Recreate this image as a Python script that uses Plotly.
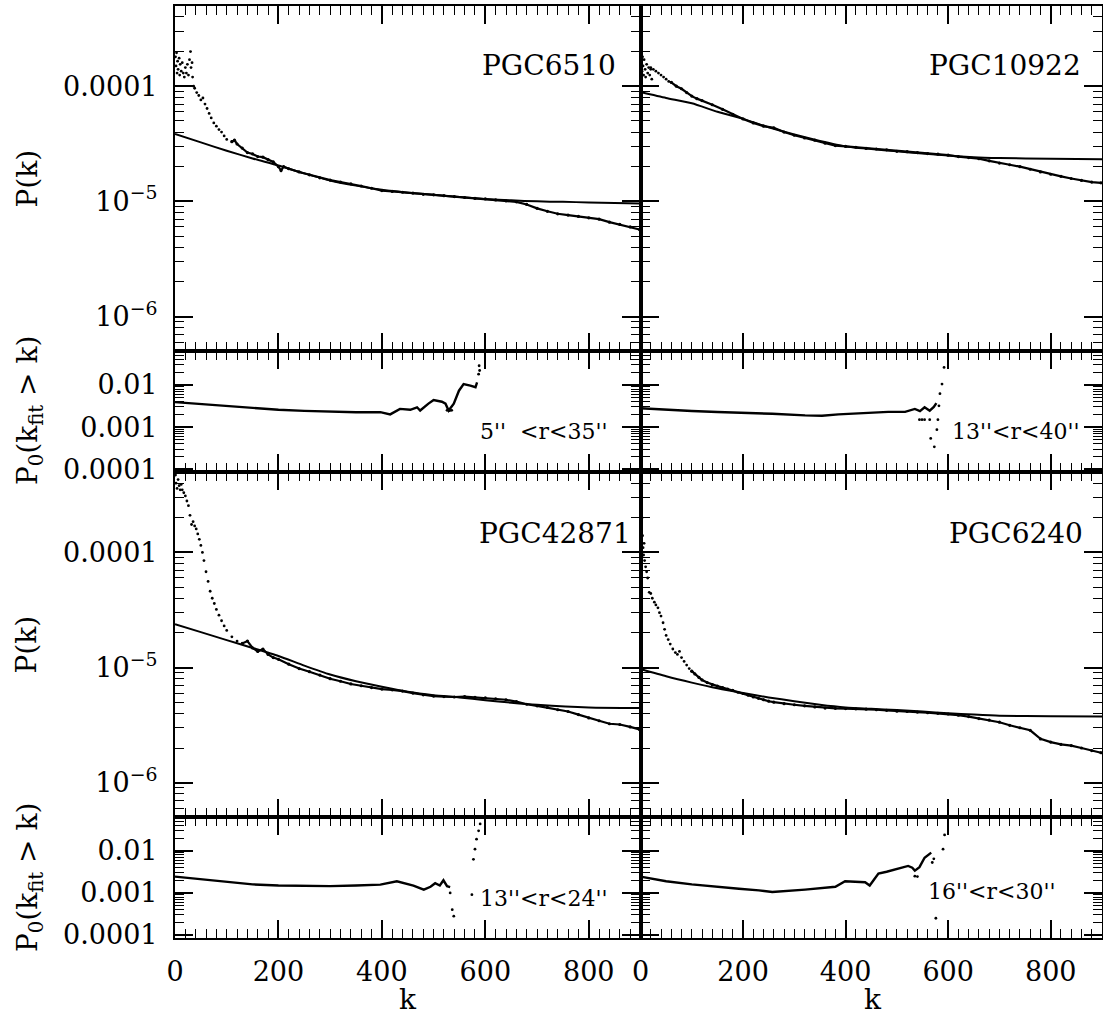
import plotly.graph_objects as go

# ---------------- data ----------------
# PGC6510 (top-left)
pgc6510_cloud_k = [1, 2, 3, 4, 5, 6, 8, 9, 10, 12, 14, 16, 18, 20, 22, 24, 26, 28, 30, 31, 33, 34, 36]
pgc6510_cloud_p = [1.8e-4, 1.5e-4, 1.95e-4, 1.3e-4, 1.65e-4, 1.4e-4, 1.75e-4, 1.25e-4, 1.55e-4, 1.35e-4,
                   1.6e-4, 1.3e-4, 1.2e-4, 1.45e-4, 1.3e-4, 1.55e-4, 1.25e-4, 1.7e-4, 2.0e-4, 1.45e-4,
                   1.6e-4, 1.2e-4, 1.0e-4]
pgc6510_k = [38, 42, 46, 50, 54, 58, 62, 66, 70, 75, 80, 85, 90, 95, 100, 110, 115, 120, 130, 140, 150,
             160, 170, 180, 190, 200, 205, 210, 220, 240, 260, 280, 300, 320, 340, 360, 380, 400, 420,
             440, 460, 480, 500, 520, 540, 560, 580, 600, 620, 640, 660, 680, 700, 720, 740, 760, 780,
             800, 820, 840, 860, 880, 898]
pgc6510_p = [9.6e-5, 8.8e-5, 8.3e-5, 7.6e-5, 7.9e-5, 7.0e-5, 6.4e-5, 5.8e-5, 5.3e-5, 4.8e-5, 4.5e-5,
             4.2e-5, 4.0e-5, 3.7e-5, 3.45e-5, 3.3e-5, 3.4e-5, 3.15e-5, 2.9e-5, 2.65e-5, 2.58e-5, 2.45e-5,
             2.42e-5, 2.3e-5, 2.2e-5, 2.0e-5, 1.85e-5, 2.0e-5, 1.92e-5, 1.8e-5, 1.7e-5, 1.6e-5, 1.53e-5,
             1.47e-5, 1.42e-5, 1.36e-5, 1.3e-5, 1.24e-5, 1.22e-5, 1.2e-5, 1.18e-5, 1.15e-5, 1.14e-5,
             1.12e-5, 1.1e-5, 1.08e-5, 1.06e-5, 1.05e-5, 1.03e-5, 1.01e-5, 9.9e-6, 9.4e-6, 8.7e-6,
             8.2e-6, 7.8e-6, 7.6e-6, 7.4e-6, 7.2e-6, 7.0e-6, 6.6e-6, 6.3e-6, 6.0e-6, 5.7e-6]
pgc6510_fit_k = [0, 50, 100, 150, 200, 250, 300, 350, 400, 450, 500, 550, 600, 650, 700, 750, 800, 850, 900]
pgc6510_fit_p = [3.84e-5, 3.25e-5, 2.75e-5, 2.36e-5, 2.05e-5, 1.75e-5, 1.52e-5, 1.37e-5, 1.26e-5, 1.19e-5,
                 1.14e-5, 1.09e-5, 1.05e-5, 1.02e-5, 1.0e-5, 9.9e-6, 9.8e-6, 9.7e-6, 9.6e-6]
pgc6510_p0_k = [0, 50, 100, 150, 200, 250, 300, 350, 397, 416, 435, 455, 468, 474, 490, 500, 516, 523,
                529, 539, 549, 558, 571, 581, 584]
pgc6510_p0 = [3.9e-3, 3.5e-3, 3.1e-3, 2.8e-3, 2.57e-3, 2.42e-3, 2.3e-3, 2.25e-3, 2.26e-3, 2.0e-3, 2.7e-3,
              2.57e-3, 2.95e-3, 2.47e-3, 3.6e-3, 4.4e-3, 4.0e-3, 3.6e-3, 2.47e-3, 3.6e-3, 7.3e-3,
              1.05e-2, 9.6e-3, 8.8e-3, 1.15e-2]
pgc6510_p0_dots_k = [526, 531, 535, 587, 588, 589]
pgc6510_p0_dots = [2.5e-3, 2.45e-3, 2.5e-3, 1.8e-2, 2.85e-2, 2.2e-2]

# PGC10922 (top-right)
pgc10922_cloud_k = [1, 2, 3, 4, 5, 6, 7, 9, 10, 12, 14, 16, 18, 20, 22]
pgc10922_cloud_p = [2.6e-4, 1.6e-4, 1.35e-4, 1.8e-4, 1.5e-4, 1.25e-4, 1.7e-4, 1.4e-4, 1.2e-4, 1.55e-4,
                    1.3e-4, 1.45e-4, 1.25e-4, 1.4e-4, 1.15e-4]
pgc10922_k = [20, 25, 30, 35, 40, 45, 50, 55, 60, 70, 80, 90, 100, 110, 120, 140, 160, 180, 200, 220, 240,
              260, 280, 300, 320, 340, 360, 380, 400, 420, 440, 460, 480, 500, 520, 540, 560, 580, 600,
              620, 640, 660, 680, 700, 720, 740, 760, 780, 800, 820, 840, 860, 880, 898]
pgc10922_p = [1.45e-4, 1.4e-4, 1.35e-4, 1.3e-4, 1.25e-4, 1.2e-4, 1.15e-4, 1.1e-4, 1.08e-4, 1.0e-4, 9.5e-5,
              8.8e-5, 8.2e-5, 7.8e-5, 7.5e-5, 6.9e-5, 6.3e-5, 5.7e-5, 5.2e-5, 4.8e-5, 4.5e-5, 4.35e-5,
              4.0e-5, 3.75e-5, 3.55e-5, 3.4e-5, 3.2e-5, 3.05e-5, 3.0e-5, 2.95e-5, 2.88e-5, 2.85e-5, 2.8e-5,
              2.72e-5, 2.7e-5, 2.65e-5, 2.6e-5, 2.57e-5, 2.52e-5, 2.45e-5, 2.4e-5, 2.35e-5, 2.25e-5,
              2.15e-5, 2.08e-5, 2.0e-5, 1.9e-5, 1.8e-5, 1.72e-5, 1.65e-5, 1.58e-5, 1.52e-5, 1.47e-5, 1.45e-5]
pgc10922_fit_k = [0, 50, 100, 150, 200, 250, 300, 350, 400, 450, 500, 550, 600, 650, 700, 800, 900]
pgc10922_fit_p = [8.9e-5, 7.9e-5, 7.1e-5, 6.0e-5, 5.2e-5, 4.4e-5, 3.8e-5, 3.35e-5, 3.0e-5, 2.85e-5,
                  2.72e-5, 2.6e-5, 2.5e-5, 2.42e-5, 2.38e-5, 2.34e-5, 2.32e-5]
pgc10922_p0_k = [0, 50, 100, 150, 200, 257, 321, 354, 386, 420, 451, 483, 516, 535, 545, 554, 564, 572, 577]
pgc10922_p0 = [2.8e-3, 2.55e-3, 2.4e-3, 2.28e-3, 2.2e-3, 2.07e-3, 1.9e-3, 1.86e-3, 2.0e-3, 2.1e-3, 2.2e-3,
               2.3e-3, 2.3e-3, 2.7e-3, 2.4e-3, 2.95e-3, 2.45e-3, 3.0e-3, 3.7e-3]
pgc10922_p0_dots_k = [544, 549, 554, 564, 578, 580, 566, 573, 582, 584, 588, 592]
pgc10922_p0_dots = [1.5e-3, 1.5e-3, 1.5e-3, 1.5e-3, 8.7e-4, 1.5e-3, 5.4e-4, 3.4e-4, 3.2e-3, 6.2e-3,
                    1.05e-2, 2.6e-2]

# PGC42871 (bottom-left)
pgc42871_cloud_k = [1, 2, 4, 6, 8, 10, 12]
pgc42871_cloud_p = [4.7e-4, 4.0e-4, 3.6e-4, 4.3e-4, 3.8e-4, 3.5e-4, 3.9e-4]
pgc42871_k = [14, 17, 20, 23, 26, 29, 32, 35, 38, 41, 44, 47, 50, 53, 56, 60, 64, 68, 72, 76, 80, 85, 90,
              95, 100, 110, 120, 130, 140, 150, 160, 170, 180, 190, 200, 220, 240, 260, 280, 300, 320,
              340, 360, 380, 400, 420, 440, 460, 480, 500, 520, 540, 560, 580, 600, 620, 640, 660, 680,
              700, 720, 740, 760, 780, 800, 820, 840, 860, 880, 898]
pgc42871_p = [3.5e-4, 3.3e-4, 3.1e-4, 2.8e-4, 2.55e-4, 2.1e-4, 1.75e-4, 1.85e-4, 1.7e-4, 1.6e-4, 1.45e-4,
              1.3e-4, 1.15e-4, 1.0e-4, 8.5e-5, 6.8e-5, 5.6e-5, 4.6e-5, 4.0e-5, 3.6e-5, 3.2e-5, 2.85e-5,
              2.55e-5, 2.3e-5, 2.1e-5, 1.85e-5, 1.7e-5, 1.62e-5, 1.7e-5, 1.48e-5, 1.38e-5, 1.45e-5, 1.3e-5,
              1.22e-5, 1.18e-5, 1.07e-5, 9.8e-6, 9.2e-6, 8.6e-6, 8.0e-6, 7.6e-6, 7.2e-6, 6.95e-6, 6.7e-6,
              6.5e-6, 6.4e-6, 6.25e-6, 6.0e-6, 5.8e-6, 5.65e-6, 5.6e-6, 5.55e-6, 5.6e-6, 5.5e-6, 5.45e-6,
              5.35e-6, 5.25e-6, 5.05e-6, 4.8e-6, 4.65e-6, 4.5e-6, 4.3e-6, 4.15e-6, 3.9e-6, 3.65e-6,
              3.45e-6, 3.25e-6, 3.2e-6, 3.05e-6, 2.9e-6]
pgc42871_fit_k = [0, 50, 100, 150, 200, 250, 300, 350, 400, 450, 500, 550, 600, 650, 700, 800, 900]
pgc42871_fit_p = [2.38e-5, 2.03e-5, 1.73e-5, 1.48e-5, 1.26e-5, 1.04e-5, 8.7e-6, 7.6e-6, 6.8e-6, 6.15e-6,
                  5.75e-6, 5.5e-6, 5.2e-6, 4.95e-6, 4.75e-6, 4.5e-6, 4.45e-6]
pgc42871_p0_k = [0, 50, 100, 150, 200, 250, 300, 350, 397, 429, 461, 481, 494, 503, 512, 519, 526, 532]
pgc42871_p0 = [2.45e-3, 2.1e-3, 1.85e-3, 1.6e-3, 1.5e-3, 1.48e-3, 1.45e-3, 1.5e-3, 1.58e-3, 1.9e-3,
               1.5e-3, 1.2e-3, 1.4e-3, 1.7e-3, 1.5e-3, 2.0e-3, 1.45e-3, 1.38e-3]
pgc42871_p0_dots_k = [532, 536, 539, 574, 577, 580, 583, 587, 590]
pgc42871_p0_dots = [1.0e-3, 4.0e-4, 2.8e-4, 9.1e-4, 6.3e-3, 1.1e-2, 1.9e-2, 3.0e-2, 4.4e-2]

# PGC6240 (bottom-right)
pgc6240_cloud_k = [1, 2, 3, 4, 5, 6, 7]
pgc6240_cloud_p = [2.5e-4, 1.6e-4, 2.0e-4, 1.4e-4, 1.1e-4, 9.5e-5, 1.2e-4]
pgc6240_k = [8, 10, 12, 14, 17, 20, 23, 27, 30, 34, 37, 40, 44, 47, 50, 54, 58, 63, 68, 72, 76, 80, 85,
             90, 95, 100, 106, 114, 120, 130, 140, 150, 160, 170, 180, 190, 200, 210, 220, 230, 240, 250,
             260, 280, 300, 320, 340, 360, 380, 400, 420, 440, 460, 480, 500, 520, 540, 560, 580, 600,
             620, 640, 660, 680, 700, 720, 740, 760, 780, 800, 820, 840, 860, 880, 898]
pgc6240_p = [8.5e-5, 7.5e-5, 6.8e-5, 6.0e-5, 4.5e-5, 4.4e-5, 4.0e-5, 3.7e-5, 3.5e-5, 3.3e-5, 3.0e-5,
             2.8e-5, 2.45e-5, 2.15e-5, 1.9e-5, 1.75e-5, 1.6e-5, 1.45e-5, 1.35e-5, 1.3e-5, 1.38e-5,
             1.22e-5, 1.13e-5, 1.05e-5, 9.8e-6, 9.3e-6, 8.8e-6, 8.2e-6, 7.8e-6, 7.4e-6, 7.1e-6, 6.9e-6,
             6.7e-6, 6.5e-6, 6.35e-6, 6.1e-6, 5.95e-6, 5.75e-6, 5.55e-6, 5.4e-6, 5.25e-6, 5.1e-6, 5.0e-6,
             4.85e-6, 4.75e-6, 4.65e-6, 4.55e-6, 4.45e-6, 4.42e-6, 4.4e-6, 4.38e-6, 4.35e-6, 4.3e-6,
             4.25e-6, 4.18e-6, 4.15e-6, 4.1e-6, 4.05e-6, 4.0e-6, 3.95e-6, 3.85e-6, 3.75e-6, 3.6e-6,
             3.5e-6, 3.35e-6, 3.15e-6, 3.0e-6, 2.85e-6, 2.4e-6, 2.25e-6, 2.15e-6, 2.1e-6, 2.0e-6,
             1.9e-6, 1.82e-6]
pgc6240_fit_k = [0, 50, 100, 150, 200, 250, 300, 350, 400, 450, 500, 550, 600, 650, 700, 800, 900]
pgc6240_fit_p = [9.7e-6, 8.4e-6, 7.4e-6, 6.6e-6, 6.0e-6, 5.5e-6, 5.1e-6, 4.75e-6, 4.5e-6, 4.38e-6,
                 4.28e-6, 4.15e-6, 4.0e-6, 3.9e-6, 3.82e-6, 3.77e-6, 3.76e-6]
pgc6240_p0_k = [0, 50, 100, 150, 192, 231, 257, 321, 360, 380, 399, 420, 438, 447, 464, 480, 496, 510,
                522, 530, 535, 544, 554, 567]
pgc6240_p0 = [2.45e-3, 1.9e-3, 1.6e-3, 1.38e-3, 1.26e-3, 1.15e-3, 1.05e-3, 1.2e-3, 1.35e-3, 1.4e-3,
              1.9e-3, 1.85e-3, 1.8e-3, 1.5e-3, 2.9e-3, 3.2e-3, 3.6e-3, 3.9e-3, 4.4e-3, 4.0e-3, 3.4e-3,
              4.1e-3, 6.9e-3, 9.1e-3]
pgc6240_p0_dots_k = [535, 540, 569, 572, 576, 590, 593]
pgc6240_p0_dots = [2.5e-3, 2.45e-3, 5.3e-3, 6.5e-3, 2.5e-4, 1.1e-2, 2.4e-2]

# below this k the measured spectrum is shown as separate dots
dotted_below_k = [110, 60, 125, 100]

galaxy_names = ["PGC6510", "PGC10922", "PGC42871", "PGC6240"]
radius_labels = ["5''  &lt;r&lt;35''", "13''&lt;r&lt;40''", "13''&lt;r&lt;24''", "16''&lt;r&lt;30''"]

big_ticks = [1e-6, 1e-5, 1e-4]
big_ticktext = ["10<sup>\u22126</sup>", "10<sup>\u22125</sup>", "0.0001"]
small_ticks = [1e-4, 1e-3, 1e-2]
small_ticktext = ["0.0001", "0.001", "0.01"]
k_ticks = [0, 200, 400, 600, 800]

# ---------------- layout geometry ----------------
W, H = 1103, 1018
FONT = "DejaVu Serif"


def fx(px):
    return px / W


def fy(py):
    return 1 - py / H


XL = [fx(175), fx(640.5)]
XR = [fx(640.5), fx(1102)]
Y_BIG1 = [fy(351.2), fy(5.7)]
Y_SM1 = [fy(472), fy(351.2)]
Y_BIG2 = [fy(817.3), fy(472)]
Y_SM2 = [fy(937.7), fy(817.3)]

BIG_RANGE = [-6.30103, -3.30103]
SMALL_RANGE = [-4.065, -1.2]

minor_log = [m * 10 ** e for e in range(-8, 0) for m in range(2, 10)]

fig = go.Figure()

panels = [
    # idx, xdomain, ydomain, kind, show x labels, show y labels
    (1, XL, Y_BIG1, "big", False, True),
    (2, XR, Y_BIG1, "big", False, False),
    (3, XL, Y_SM1, "small", False, True),
    (4, XR, Y_SM1, "small", False, False),
    (5, XL, Y_BIG2, "big", False, True),
    (6, XR, Y_BIG2, "big", False, False),
    (7, XL, Y_SM2, "small", True, True),
    (8, XR, Y_SM2, "small", True, False),
]

common = dict(
    showline=True, linecolor="black", linewidth=2.2, mirror="ticks",
    ticks="inside", ticklen=18, tickwidth=1.6, tickcolor="black",
    showgrid=False, zeroline=False,
    tickfont=dict(family=FONT, size=27, color="black"),
)

layout_axes = {}
for idx, xd, yd, kind, showx, showy in panels:
    sfx = "" if idx == 1 else str(idx)
    layout_axes["xaxis" + sfx] = dict(
        common, domain=xd, anchor="y" + sfx, range=[0, 900],
        tickmode="array", tickvals=k_ticks, showticklabels=showx,
        ticklabelstandoff=9,
        minor=dict(ticks="inside", ticklen=9, tickwidth=1.3, tickcolor="black",
                   tickmode="linear", tick0=0, dtick=20, showgrid=False),
    )
    if kind == "big":
        yr, tv, tt = BIG_RANGE, big_ticks, big_ticktext
    else:
        yr, tv, tt = SMALL_RANGE, small_ticks, small_ticktext
    layout_axes["yaxis" + sfx] = dict(
        common, domain=yd, anchor="x" + sfx, type="log", range=yr,
        tickmode="array", tickvals=tv, ticktext=tt, showticklabels=showy,
        ticklabelstandoff=10,
        minor=dict(ticks="inside", ticklen=9, tickwidth=1.3, tickcolor="black",
                   tickmode="array", tickvals=minor_log, showgrid=False),
    )

galaxies = [
    (pgc6510_cloud_k, pgc6510_cloud_p, pgc6510_k, pgc6510_p, pgc6510_fit_k, pgc6510_fit_p,
     pgc6510_p0_k, pgc6510_p0, pgc6510_p0_dots_k, pgc6510_p0_dots, 1, 3),
    (pgc10922_cloud_k, pgc10922_cloud_p, pgc10922_k, pgc10922_p, pgc10922_fit_k, pgc10922_fit_p,
     pgc10922_p0_k, pgc10922_p0, pgc10922_p0_dots_k, pgc10922_p0_dots, 2, 4),
    (pgc42871_cloud_k, pgc42871_cloud_p, pgc42871_k, pgc42871_p, pgc42871_fit_k, pgc42871_fit_p,
     pgc42871_p0_k, pgc42871_p0, pgc42871_p0_dots_k, pgc42871_p0_dots, 5, 7),
    (pgc6240_cloud_k, pgc6240_cloud_p, pgc6240_k, pgc6240_p, pgc6240_fit_k, pgc6240_fit_p,
     pgc6240_p0_k, pgc6240_p0, pgc6240_p0_dots_k, pgc6240_p0_dots, 6, 8),
]

DOT = dict(size=2.8, color="black")

for g, (ck, cp, dk, dp, fk, fp, p0k, p0, p0dk, p0d, big_i, sm_i) in enumerate(galaxies):
    bx = "x" if big_i == 1 else "x%d" % big_i
    by = "y" if big_i == 1 else "y%d" % big_i
    sx, sy = "x%d" % sm_i, "y%d" % sm_i
    cut = dotted_below_k[g]
    lo_k = list(ck) + [k for k in dk if k <= cut]
    lo_p = list(cp) + [p for k, p in zip(dk, dp) if k <= cut]
    hi_k = [k for k in dk if k >= cut]
    hi_p = [p for k, p in zip(dk, dp) if k >= cut]
    fig.add_trace(go.Scatter(x=lo_k, y=lo_p, mode="markers", xaxis=bx, yaxis=by,
                             marker=DOT, hoverinfo="skip"))
    fig.add_trace(go.Scatter(x=hi_k, y=hi_p, mode="lines+markers", xaxis=bx, yaxis=by,
                             line=dict(color="black", width=2.2),
                             marker=dict(size=3.2, color="black"), hoverinfo="skip"))
    fig.add_trace(go.Scatter(x=fk, y=fp, mode="lines", xaxis=bx, yaxis=by,
                             line=dict(color="black", width=2, shape="spline", smoothing=0.6),
                             hoverinfo="skip"))
    fig.add_trace(go.Scatter(x=p0k, y=p0, mode="lines", xaxis=sx, yaxis=sy,
                             line=dict(color="black", width=2.4), hoverinfo="skip"))
    fig.add_trace(go.Scatter(x=p0dk, y=p0d, mode="markers", xaxis=sx, yaxis=sy,
                             marker=DOT, hoverinfo="skip"))

ann = []
# galaxy names
for name, xr, yc in zip(galaxy_names, [618, 1083, 633, 1085], [65, 65, 533, 533]):
    ann.append(dict(text=name, x=fx(xr), y=fy(yc), xanchor="right", yanchor="middle",
                    font=dict(family=FONT, size=28, color="black")))
# radius ranges
for lab, xr, yc in zip(radius_labels, [610, 1082, 610, 1058], [431, 431, 898, 891]):
    ann.append(dict(text=lab, x=fx(xr), y=fy(yc), xanchor="right", yanchor="middle",
                    font=dict(family=FONT, size=22, color="black")))
# y titles
for yc in [178.5, 644.6]:
    ann.append(dict(text="P(k)", x=fx(27), y=fy(yc), xanchor="center", yanchor="middle",
                    textangle=-90, font=dict(family=FONT, size=28, color="black")))
for yc in [411, 878]:
    ann.append(dict(text="P<sub>0</sub>(k<sub>fit</sub> &gt; k)", x=fx(29), y=fy(yc),
                    xanchor="center", yanchor="middle", textangle=-90,
                    font=dict(family=FONT, size=28, color="black")))
# x titles
for xc in [407.5, 873]:
    ann.append(dict(text="k", x=fx(xc), y=fy(999), xanchor="center", yanchor="middle",
                    font=dict(family=FONT, size=28, color="black")))
for a in ann:
    a.update(xref="paper", yref="paper", showarrow=False)

fig.update_layout(
    width=W, height=H, margin=dict(l=0, r=0, t=0, b=0, autoexpand=False),
    paper_bgcolor="white", plot_bgcolor="white", showlegend=False,
    annotations=ann, **layout_axes,
)

fig.write_html(
    "out.html",
    config={"displayModeBar": False},
    post_script="document.body.style.margin='0px';document.body.style.padding='0px';"
                "document.body.style.overflow='hidden';"
                "document.querySelectorAll('text').forEach(function(t){"
                "if(!t.textContent.trim()){t.remove();}});",
)
